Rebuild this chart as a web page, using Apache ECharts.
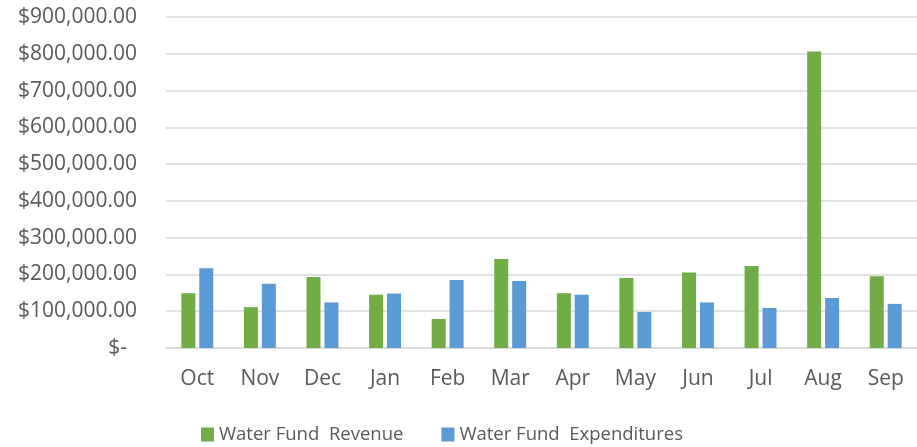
<!DOCTYPE html>
<html>
<head>
<meta charset="utf-8">
<script src="https://cdn.jsdelivr.net/npm/echarts@6/dist/echarts.min.js"></script>
<style>
  html, body { margin: 0; padding: 0; background: #fff; }
  #app { width: 917px; height: 447px; }
</style>
</head>
<body>
<div id="app"></div>
<script>
const months = ['Oct', 'Nov', 'Dec', 'Jan', 'Feb', 'Mar', 'Apr', 'May', 'Jun', 'Jul', 'Aug', 'Sep'];
const revenue = [149000, 111000, 193000, 145000, 79000, 242000, 149000, 190000, 205000, 223000, 806000, 195000];
const expenditures = [217000, 175000, 124000, 148000, 185000, 182000, 145000, 98000, 124000, 109000, 136000, 120000];
const seriesNames = ['Water Fund  Revenue', 'Water Fund  Expenditures'];

const textColor = '#595959';
const font = 'Open Sans';

function money(v) {
  if (v === 0) return '{z|$-}';
  return '$' + v.toLocaleString('en-US', { minimumFractionDigits: 2 });
}

const chart = echarts.init(document.getElementById('app'));
chart.setOption({
  animation: false,
  textStyle: { fontFamily: font },
  grid: { left: 166, right: 0, top: 17, bottom: 99 },
  legend: {
    top: 425,
    left: 201,
    padding: 0,
    itemWidth: 13,
    itemHeight: 14,
    itemGap: 38,
    icon: 'rect',
    textStyle: { color: textColor, fontSize: 18.5, fontFamily: font }
  },
  xAxis: {
    type: 'category',
    data: months,
    axisTick: { show: false },
    axisLine: { lineStyle: { color: '#d9d9d9', width: 1.5 } },
    axisLabel: { color: textColor, fontSize: 21, margin: 21, fontFamily: font }
  },
  yAxis: {
    type: 'value',
    min: 0,
    max: 900000,
    interval: 100000,
    axisLine: { show: false },
    axisTick: { show: false },
    splitLine: { lineStyle: { color: '#d9d9d9', width: 1.5 } },
    axisLabel: {
      color: textColor,
      fontSize: 21,
      margin: 29,
      fontFamily: font,
      formatter: money,
      rich: { z: { color: textColor, fontSize: 21, fontFamily: font, padding: [0, 10, 0, 0] } }
    }
  },
  series: [
    {
      name: seriesNames[0],
      type: 'bar',
      data: revenue,
      barWidth: 14,
      barGap: '28%',
      itemStyle: { color: '#70AD47' }
    },
    {
      name: seriesNames[1],
      type: 'bar',
      data: expenditures,
      barWidth: 14,
      itemStyle: { color: '#5B9BD5' }
    }
  ]
});
</script>
</body>
</html>
